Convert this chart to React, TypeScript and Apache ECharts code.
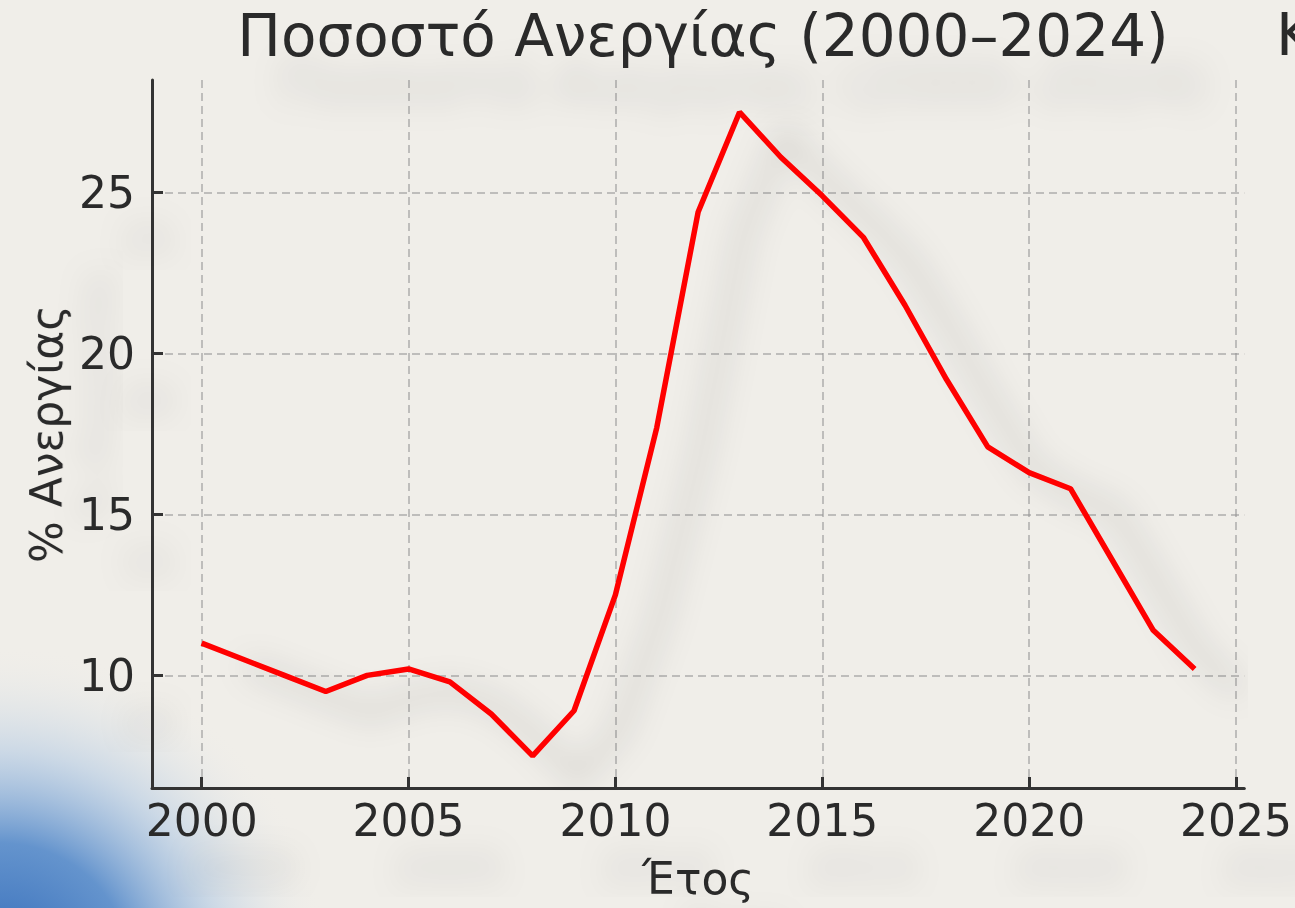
import React, { useEffect, useRef } from "react";
import * as echarts from "echarts";

const years = [2000, 2001, 2002, 2003, 2004, 2005, 2006, 2007, 2008, 2009, 2010, 2011, 2012, 2013, 2014, 2015, 2016, 2017, 2018, 2019, 2020, 2021, 2022, 2023, 2024];
const unemployment = [11.0, 10.5, 10.0, 9.5, 10.0, 10.2, 9.8, 8.8, 7.5, 8.9, 12.5, 17.7, 24.4, 27.5, 26.1, 24.9, 23.6, 21.5, 19.2, 17.1, 16.3, 15.8, 13.6, 11.4, 10.2];
const xTicks = [2000, 2005, 2010, 2015, 2020, 2025];
const yTicks = [10, 15, 20, 25];

const titleText = "Ποσοστό Ανεργίας (2000–2024)";
const xName = "Έτος";
const yName = "% Ανεργίας";

const FONT = "DejaVu Sans";
const BG = "#f0eee9";

export default function App() {
  const ref = useRef<HTMLDivElement>(null);
  useEffect(() => {
    if (!ref.current) return;
    const chart = echarts.init(ref.current, null, { renderer: "svg" });
    const textShadow = {
      textShadowColor: "rgba(0,0,0,0.13)",
      textShadowBlur: 30,
      textShadowOffsetX: 40,
      textShadowOffsetY: 48,
    };
    chart.setOption({
      animation: false,
      backgroundColor: BG,
      title: {
        text: titleText,
        left: 698,
        top: 2,
        textAlign: "center",
        textStyle: { fontFamily: FONT, fontSize: 58, fontWeight: "normal", color: "#2a2a2a", ...textShadow },
      },
      graphic: [
        {
          type: "rect",
          silent: true,
          z: -10,
          shape: { x: 0, y: 620, width: 560, height: 288 },
          style: {
            fill: {
              type: "radial",
              x: 0,
              y: 975,
              r: 330,
              global: true,
              colorStops: [
                { offset: 0, color: "rgba(35,95,180,0.95)" },
                { offset: 0.4, color: "rgba(65,125,198,0.8)" },
                { offset: 0.68, color: "rgba(150,185,225,0.4)" },
                { offset: 1, color: "rgba(240,238,233,0)" },
              ],
            },
          },
        },
        {
          type: "text",
          left: 1276,
          top: 6,
          silent: true,
          style: { text: "Κ", font: `58px '${FONT}'`, fill: "#2a2a2a" },
        },
      ],
      grid: { left: 152, right: 47, top: 80, bottom: 120, containLabel: false },
      xAxis: {
        type: "value",
        min: 1998.8,
        max: 2025.2,
        name: xName,
        nameLocation: "middle",
        nameGap: 68,
        nameTextStyle: { fontFamily: FONT, fontSize: 44, color: "#2a2a2a", ...textShadow },
        axisLine: { show: true, onZero: false, lineStyle: { color: "#333", width: 3 } },
        axisTick: { show: true, inside: true, length: 11, lineStyle: { color: "#333", width: 3 }, customValues: xTicks },
        axisLabel: {
          customValues: xTicks,
          margin: 10,
          fontFamily: FONT,
          fontSize: 44,
          color: "#2a2a2a",
          formatter: (v: number) => String(v),
          ...textShadow,
        },
        splitLine: { show: true, lineStyle: { color: "rgba(150,150,150,0.55)", width: 2, type: [8, 5] } },
      },
      yAxis: {
        type: "value",
        min: 6.5,
        max: 28.5,
        name: yName,
        nameLocation: "middle",
        nameGap: 82,
        nameRotate: 90,
        nameTextStyle: { fontFamily: FONT, fontSize: 44, color: "#2a2a2a", ...textShadow },
        axisLine: { show: true, lineStyle: { color: "#333", width: 3 } },
        axisTick: { show: true, inside: true, length: 11, lineStyle: { color: "#333", width: 3 }, customValues: yTicks },
        axisLabel: {
          customValues: yTicks,
          margin: 17,
          fontFamily: FONT,
          fontSize: 44,
          color: "#2a2a2a",
          ...textShadow,
        },
        splitLine: { show: true, lineStyle: { color: "rgba(150,150,150,0.55)", width: 2, type: [8, 5] } },
      },
      series: [
        {
          type: "line",
          data: years.map((y, i) => [y, unemployment[i]]),
          showSymbol: false,
          symbol: "none",
          lineStyle: {
            color: "#ff0000",
            width: 5.5,
            shadowColor: "rgba(0,0,0,0.3)",
            shadowBlur: 32,
            shadowOffsetX: 45,
            shadowOffsetY: 22,
          },
          z: 5,
        },
      ],
    });
    return () => chart.dispose();
  }, []);
  return (
    <div
      ref={ref}
      style={{ position: "fixed", left: 0, top: 0, width: 1295, height: 908 }}
    />
  );
}
